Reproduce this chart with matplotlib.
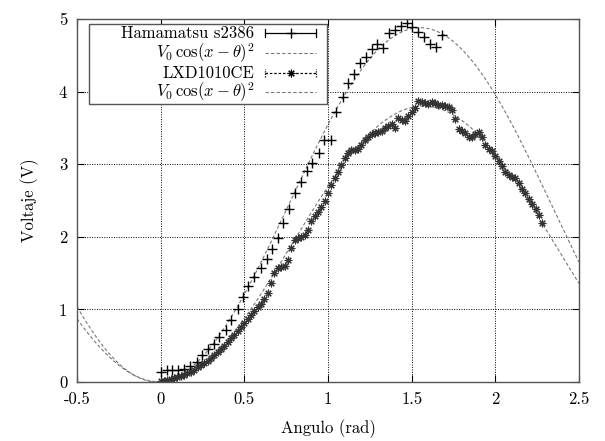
import numpy as np
import matplotlib
matplotlib.use("Agg")
import matplotlib.pyplot as plt
from matplotlib.lines import Line2D
from matplotlib.patches import Rectangle

plt.rcParams['font.family'] = 'serif'
plt.rcParams['font.serif'] = ['cmr10']
plt.rcParams['mathtext.fontset'] = 'cm'
plt.rcParams['axes.unicode_minus'] = False

# Hamamatsu s2386 measurements
x_ham = [0.00, 0.036, 0.066, 0.105, 0.14, 0.175, 0.215, 0.245, 0.285, 0.32,
         0.35, 0.39, 0.42, 0.464, 0.494, 0.524, 0.56, 0.598, 0.634, 0.667,
         0.703, 0.733, 0.769, 0.803, 0.839, 0.873, 0.903, 0.946, 0.976, 1.018,
         1.048, 1.088, 1.121, 1.155, 1.191, 1.225, 1.261, 1.295, 1.327, 1.363,
         1.40, 1.435, 1.47, 1.504, 1.54, 1.574, 1.61, 1.643, 1.68]
y_ham = [0.14, 0.165, 0.165, 0.165, 0.18, 0.22, 0.28, 0.37, 0.455, 0.53,
         0.62, 0.71, 0.86, 1.01, 1.17, 1.32, 1.44, 1.57, 1.70, 1.83,
         1.99, 2.19, 2.38, 2.60, 2.75, 2.91, 3.02, 3.16, 3.33, 3.34,
         3.72, 3.92, 4.12, 4.24, 4.40, 4.47, 4.59, 4.66, 4.60, 4.81,
         4.85, 4.90, 4.95, 4.89, 4.82, 4.75, 4.65, 4.61, 4.78]

# LXD1010CE measurements
x_lxd = [0.00, 0.02, 0.04, 0.06, 0.08, 0.10, 0.12, 0.14, 0.16, 0.18,
         0.20, 0.22, 0.24, 0.26, 0.28, 0.30, 0.32, 0.34, 0.36, 0.38,
         0.40, 0.42, 0.44, 0.46, 0.48, 0.50, 0.52, 0.54, 0.56, 0.58,
         0.60, 0.62, 0.64, 0.66, 0.68, 0.70, 0.72, 0.74, 0.76, 0.78,
         0.80, 0.82, 0.84, 0.86, 0.88, 0.90, 0.92, 0.94, 0.96, 0.98,
         1.00, 1.02, 1.04, 1.06, 1.08, 1.10, 1.12, 1.14, 1.16, 1.18,
         1.20, 1.22, 1.24, 1.26, 1.28, 1.30, 1.32, 1.34, 1.36, 1.38,
         1.40, 1.42, 1.44, 1.46, 1.48, 1.50, 1.52, 1.54, 1.56, 1.58,
         1.60, 1.62, 1.64, 1.66, 1.68, 1.70, 1.72, 1.74, 1.76, 1.78,
         1.80, 1.82, 1.84, 1.86, 1.88, 1.90, 1.92, 1.94, 1.96, 1.98,
         2.00, 2.02, 2.04, 2.06, 2.08, 2.10, 2.12, 2.14, 2.16, 2.18,
         2.20, 2.22, 2.24, 2.26, 2.28]
y_lxd = [0.01, 0.02, 0.03, 0.04, 0.05, 0.07, 0.08, 0.10, 0.12, 0.14,
         0.17, 0.20, 0.23, 0.26, 0.29, 0.33, 0.37, 0.41, 0.45, 0.50,
         0.55, 0.60, 0.65, 0.70, 0.76, 0.81, 0.87, 0.92, 0.98, 1.03,
         1.08, 1.14, 1.22, 1.36, 1.50, 1.57, 1.59, 1.60, 1.68, 1.85,
         1.96, 1.99, 2.00, 2.03, 2.10, 2.22, 2.29, 2.34, 2.41, 2.49,
         2.60, 2.72, 2.81, 2.89, 2.99, 3.08, 3.15, 3.20, 3.19, 3.21,
         3.27, 3.34, 3.38, 3.41, 3.43, 3.44, 3.46, 3.50, 3.53, 3.55,
         3.50, 3.63, 3.61, 3.59, 3.66, 3.72, 3.77, 3.87, 3.85, 3.84,
         3.83, 3.85, 3.84, 3.82, 3.81, 3.80, 3.79, 3.74, 3.62, 3.49,
         3.46, 3.43, 3.37, 3.38, 3.42, 3.45, 3.38, 3.26, 3.21, 3.18,
         3.11, 3.04, 2.98, 2.89, 2.85, 2.83, 2.81, 2.74, 2.66, 2.60,
         2.52, 2.45, 2.38, 2.30, 2.19]

# fit parameters V0 cos(x - theta)^2
V0_ham, theta_ham = 4.88, 1.55
V0_lxd, theta_lxd = 3.80, 1.57

xticks = [-0.5, 0, 0.5, 1, 1.5, 2, 2.5]
xtick_labels = ["-0.5", "0", "0.5", "1", "1.5", "2", "2.5"]
yticks = [0, 1, 2, 3, 4, 5]

fs = 12

fig = plt.figure(figsize=(6.05, 4.41), dpi=100)
ax = fig.add_axes([0.1273, 0.1338, 0.8298, 0.8231])

xf = np.linspace(-0.5, 2.5, 400)
fit_ham = V0_ham * np.cos(xf - theta_ham) ** 2
fit_lxd = V0_lxd * np.cos(xf - theta_lxd) ** 2

dash_col = '#777777'
ax.plot(xf, fit_ham, color=dash_col, lw=0.8, dashes=(3, 2))
ax.plot(xf, fit_lxd, color=dash_col, lw=0.8, dashes=(3, 2))
ax.plot(x_ham, y_ham, ls='none', marker='+', ms=6.5, mew=1.0, color='black')
ax.plot(x_lxd, y_lxd, ls='none', marker=(8, 2, 0), ms=5.5, mew=0.8, color='#333333')

ax.set_xlim(-0.5, 2.5)
ax.set_ylim(0, 5)
ax.set_xticks(xticks)
ax.set_xticklabels(xtick_labels)
ax.set_yticks(yticks)
ax.set_yticklabels([str(v) for v in yticks])
ax.tick_params(direction='in', length=5, top=True, right=True, labelsize=fs, pad=7)
ax.grid(True, color='black', ls=(0, (1, 1.5)), lw=0.7)
for s in ax.spines.values():
    s.set_color('#555555')
    s.set_linewidth(1.0)

ax.set_xlabel("Angulo (rad)", fontsize=fs, labelpad=9)
ax.set_ylabel("Voltaje (V)", fontsize=fs, labelpad=14)

# gnuplot-style key drawn in axes coordinates
def fx(px):
    return (px - 77) / 502.0

def fy(py):
    return (382 - py) / 363.0

box = Rectangle((fx(89), fy(104)), fx(327) - fx(89), fy(24) - fy(104),
                transform=ax.transAxes, facecolor='white', edgecolor='#555555',
                lw=1.0, zorder=5)
ax.add_patch(box)

labels = ["Hamamatsu s2386", r"$V_0\,\cos(x-\theta)^2$", "LXD1010CE", r"$V_0\,\cos(x-\theta)^2$"]
rows = [33, 53, 73, 92]
for lab, r in zip(labels, rows):
    ax.text(fx(254), fy(r), lab, transform=ax.transAxes, ha='right', va='center',
            fontsize=fs, zorder=6)

x0, x1 = fx(265), fx(316)
cap = 0.012
# Hamamatsu sample: solid with caps and +
ax.add_line(Line2D([x0, x1], [fy(33)] * 2, transform=ax.transAxes, color='black', lw=0.9, zorder=6))
for xx in (x0, x1):
    ax.add_line(Line2D([xx, xx], [fy(33) - cap, fy(33) + cap], transform=ax.transAxes,
                       color='black', lw=0.9, zorder=6))
ax.add_line(Line2D([(x0 + x1) / 2], [fy(33)], transform=ax.transAxes, ls='none', marker='+',
                   ms=6.5, mew=1.0, color='black', zorder=6))
# LXD sample: dotted with caps and asterisk
ax.add_line(Line2D([x0, x1], [fy(73)] * 2, transform=ax.transAxes, color='black', lw=0.9,
                   ls=(0, (2, 1.5)), zorder=6))
for xx in (x0, x1):
    ax.add_line(Line2D([xx, xx], [fy(73) - cap, fy(73) + cap], transform=ax.transAxes,
                       color='black', lw=0.9, ls=(0, (1, 1)), zorder=6))
ax.add_line(Line2D([(x0 + x1) / 2], [fy(73)], transform=ax.transAxes, ls='none', marker=(8, 2, 0),
                   ms=5.5, mew=0.8, color='black', zorder=6))
# fit samples
for r in (53, 92):
    ax.add_line(Line2D([x0, x1], [fy(r)] * 2, transform=ax.transAxes, color=dash_col, lw=0.8,
                       dashes=(3, 2), zorder=6))

fig.savefig("out.png", dpi=100)
